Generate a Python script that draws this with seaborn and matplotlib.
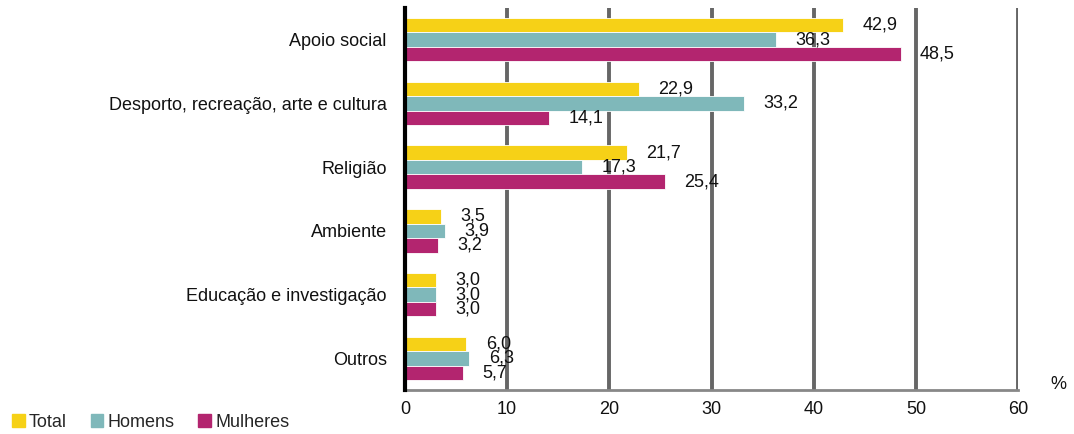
import pandas as pd
import matplotlib.pyplot as plt
import seaborn as sns

# Data
categories = ["Apoio social", "Desporto, recreação, arte e cultura", "Religião",
              "Ambiente", "Educação e investigação", "Outros"]
total = [42.9, 22.9, 21.7, 3.5, 3.0, 6.0]
homens = [36.3, 33.2, 17.3, 3.9, 3.0, 6.3]
mulheres = [48.5, 14.1, 25.4, 3.2, 3.0, 5.7]
series = ["Total", "Homens", "Mulheres"]
colors = ["#F6D117", "#7FB8BA", "#B3256F"]

df = pd.DataFrame({
    "Categoria": categories * 3,
    "Valor": total + homens + mulheres,
    "Série": [s for s in series for _ in categories],
})

sns.set_style("white")
plt.rcParams["font.family"] = ["Liberation Sans", "DejaVu Sans"]
fs = 13

fig = plt.figure(figsize=(10.74, 4.34), dpi=100)
ax = fig.add_axes([0.377, 0.101, 0.571, 0.881])

sns.barplot(data=df, y="Categoria", x="Valor", hue="Série", orient="h",
            palette=colors, saturation=1, width=0.68, ax=ax, legend=False,
            edgecolor="white", linewidth=0.6)

# Data labels
for cont in ax.containers:
    ax.bar_label(cont, labels=[f"{v:.1f}".replace(".", ",") for v in cont.datavalues],
                 padding=14, fontsize=fs, color="#111111")

ax.set_xlim(0, 60)
ax.set_xticks(range(0, 61, 10))
ax.set_ylim(5.5, -0.5)
ax.set_xlabel("")
ax.set_ylabel("")
ax.tick_params(axis="both", length=0, labelsize=fs, colors="#111111")
ax.tick_params(axis="y", pad=13)
ax.tick_params(axis="x", pad=8)

ax.grid(axis="x", color="#666666", linewidth=2.8)
ax.set_axisbelow(True)
for s in ["top", "right"]:
    ax.spines[s].set_visible(False)
ax.spines["left"].set_color("black")
ax.spines["left"].set_linewidth(3)
ax.spines["left"].set_zorder(5)
ax.spines["bottom"].set_color("#888888")
ax.spines["bottom"].set_linewidth(2)

fig.text(0.993, 0.115, "%", fontsize=fs, ha="right", va="center", color="#111111")

# Legend
handles = [plt.Rectangle((0, 0), 1, 1, color=c) for c in colors]
fig.legend(handles, series, loc="lower left", bbox_to_anchor=(-0.004, -0.03),
           ncol=3, frameon=False, fontsize=fs, handlelength=0.7, handleheight=0.8,
           handletextpad=0.25, columnspacing=1.3)

fig.savefig("out.png", dpi=100)
